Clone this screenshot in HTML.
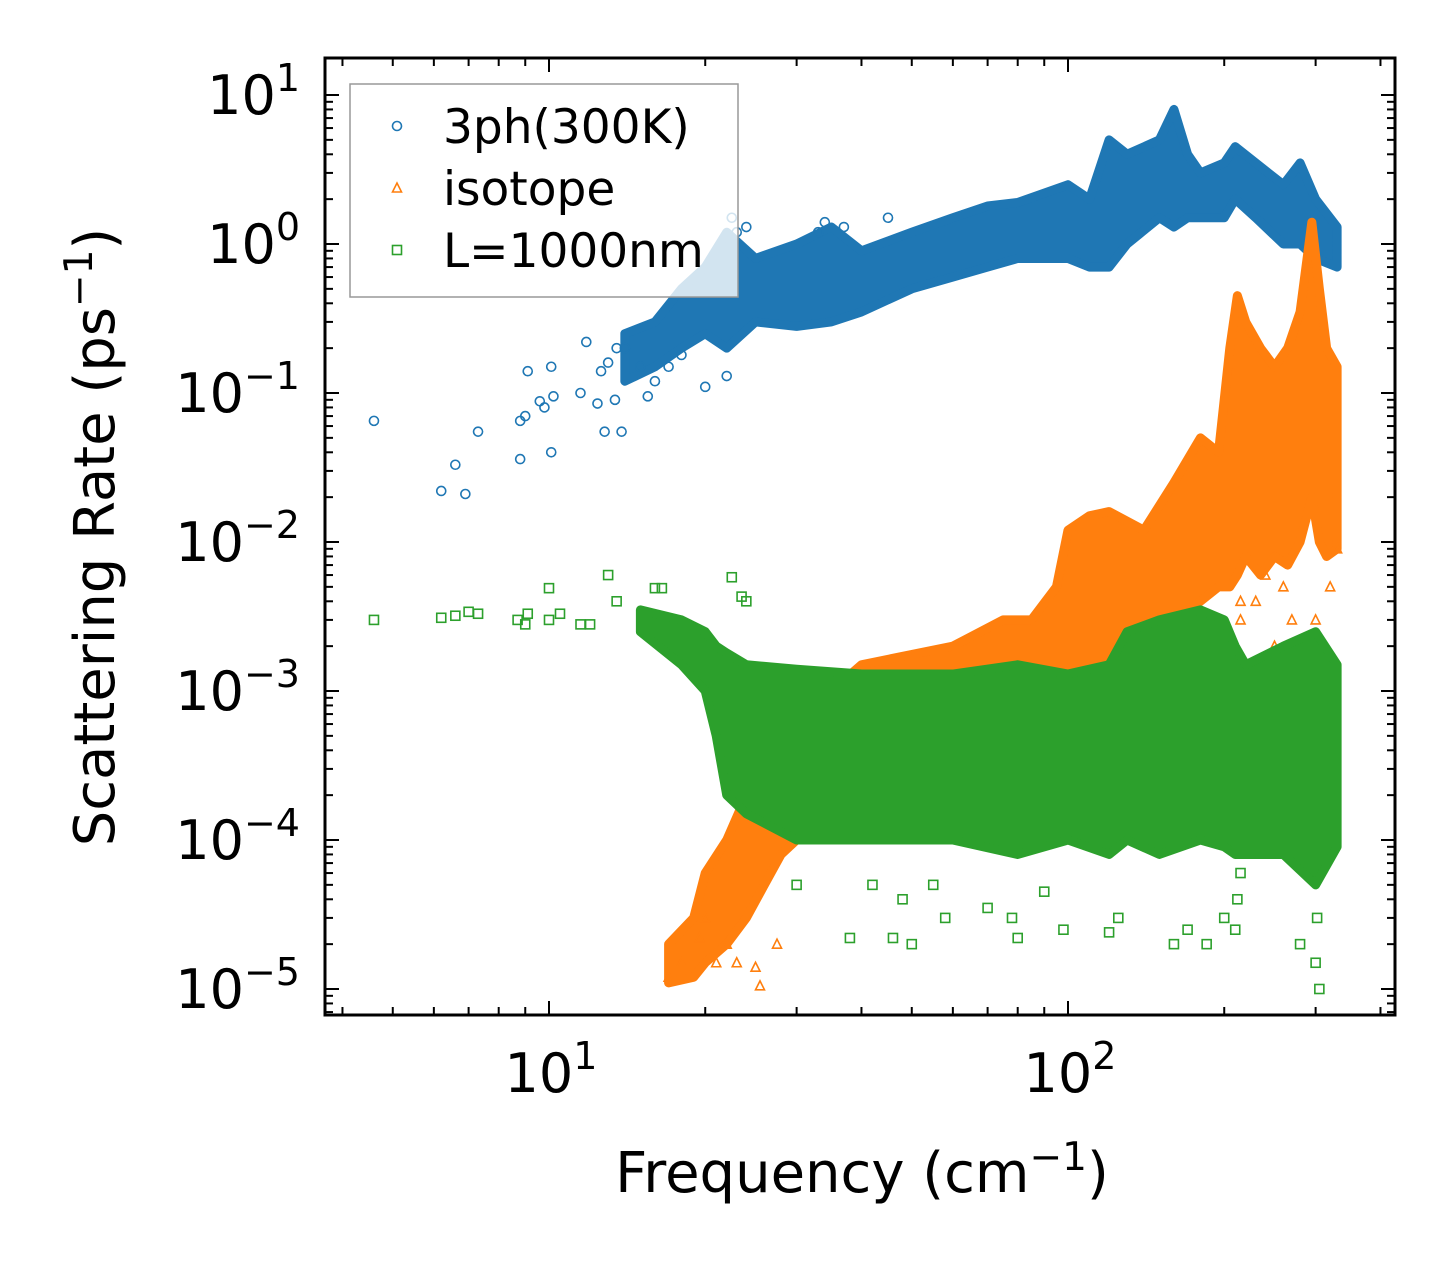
<!DOCTYPE html>
<html><head><meta charset="utf-8"><style>
html,body{margin:0;padding:0;background:#fff;}
svg text{font-family:"DejaVu Sans","Liberation Sans",sans-serif;fill:#000;}
</style></head><body>
<svg id="chart" width="1455" height="1265" viewBox="0 0 1455 1265" xmlns="http://www.w3.org/2000/svg">
<rect width="1455" height="1265" fill="#fff"/>
<g id="marks"></g>
<g id="axes"></g>
</svg>
<script>
// ---- data ----
const blueBandFreq = [14,16,18,20,22,25,30,35,40,50,60,70,80,100,110,120,130,150,160,170,180,200,210,230,260,280,300,330];
const blueBandLo   = [0.12,0.15,0.2,0.25,0.2,0.3,0.28,0.3,0.35,0.5,0.6,0.7,0.8,0.8,0.7,0.7,1.0,1.5,1.3,1.5,1.5,1.5,2,1.5,1.0,1.0,0.8,0.7];
const blueBandHi   = [0.25,0.3,0.5,0.7,1.2,0.8,1.0,1.3,0.9,1.2,1.5,1.8,1.9,2.5,2.0,5,4,5,8,4,3,3.5,4.5,3.5,2.5,3.5,2.0,1.3];
const bluePtFreq = [4.6,6.2,6.6,6.9,7.3,8.8,8.8,9.0,9.1,9.6,9.8,10.1,10.1,10.2,11.5,11.8,12.4,12.6,12.8,13,13.4,13.8,13.5,14,15,15.5,16,17,18,20,22,22.5,23,24,33,34,37,45];
const bluePtRate = [0.065,0.022,0.033,0.021,0.055,0.036,0.065,0.07,0.14,0.088,0.08,0.04,0.15,0.095,0.1,0.22,0.085,0.14,0.055,0.16,0.09,0.055,0.2,0.2,0.15,0.095,0.12,0.15,0.18,0.11,0.13,1.5,1.2,1.3,1.2,1.4,1.3,1.5];

const orgBandFreq = [17,19,20,22,24,26,28,30,32,35,40,60,75,85,95,100,110,120,140,160,180,195,205,212,220,235,250,265,280,295,305,315,330];
const orgBandHi   = [2e-5,3e-5,6e-5,1e-4,2e-4,3e-4,3e-4,3e-4,5e-4,1e-3,1.5e-3,2e-3,3e-3,3e-3,5e-3,1.2e-2,1.5e-2,1.6e-2,1.2e-2,2.5e-2,5e-2,4e-2,0.2,0.45,0.3,0.2,0.15,0.2,0.35,1.4,0.5,0.2,0.15];
const orgBandLo   = [1.1e-5,1.2e-5,1.5e-5,2e-5,3e-5,5e-5,8e-5,1e-4,2e-4,2.5e-4,3e-4,3e-4,4e-4,5e-4,6e-4,7e-4,1e-3,1.2e-3,2e-3,3e-3,4e-3,5e-3,5e-3,6e-3,8e-3,6e-3,8e-3,7e-3,1e-2,2e-2,1e-2,8e-3,9e-3];
const orgPtFreq = [17,18,19.5,21,22,23,25,25.5,27.5,20,215,230,250,270,300,320,330,215,240,260];
const orgPtRate = [1.2e-5,1.5e-5,2.2e-5,1.5e-5,2e-5,1.5e-5,1.4e-5,1.05e-5,2e-5,3e-5,3e-3,4e-3,2e-3,3e-3,3e-3,5e-3,9e-3,4e-3,6e-3,5e-3];

const grnBandFreq = [15,18,20,21,22,24,30,40,60,80,100,120,130,150,180,200,210,220,260,300,330];
const grnBandHi   = [3.5e-3,3e-3,2.5e-3,2e-3,1.8e-3,1.5e-3,1.4e-3,1.3e-3,1.3e-3,1.5e-3,1.3e-3,1.5e-3,2.5e-3,3e-3,3.5e-3,3e-3,2e-3,1.5e-3,2e-3,2.5e-3,1.5e-3];
const grnBandLo   = [2.5e-3,1.5e-3,1e-3,5e-4,2e-4,1.5e-4,1e-4,1e-4,1e-4,8e-5,1e-4,8e-5,1e-4,8e-5,1e-4,9e-5,8e-5,8e-5,8e-5,5e-5,9e-5];
const grnPtFreq = [4.6,6.2,6.6,7.0,7.3,8.7,9.0,9.1,10,10,10.5,11.5,12,13,13.5,16,16.5,22.5,23.5,24,30,38,42,46,48,50,55,58,70,78,80,90,98,120,125,160,170,185,200,210,280,300,305,302,300,212,215];
const grnPtRate = [0.003,0.0031,0.0032,0.0034,0.0033,0.003,0.0028,0.0033,0.0049,0.003,0.0033,0.0028,0.0028,0.006,0.004,0.0049,0.0049,0.0058,0.0043,0.004,5e-5,2.2e-5,5e-5,2.2e-5,4e-5,2e-5,5e-5,3e-5,3.5e-5,3e-5,2.2e-5,4.5e-5,2.5e-5,2.4e-5,3e-5,2e-5,2.5e-5,2e-5,3e-5,2.5e-5,2e-5,1.5e-5,1e-5,3e-5,6e-5,4e-5,6e-5];

const yTickExp = [1,0,-1,-2,-3,-4,-5];
const xTickExp = [1,2];

// ---- axes ----
const L=325,R=1395,T=58,B=1015;
const X=f=>1068+519*Math.log10(f/100);
const Y=v=>244-149*Math.log10(v);
const NS="http://www.w3.org/2000/svg";
const marks=document.getElementById('marks'), axes=document.getElementById('axes');
function mk(tag,attrs,parent){const e=document.createElementNS(NS,tag);for(const k in attrs)e.setAttribute(k,attrs[k]);parent.appendChild(e);return e;}

const C={b:'#1f77b4',o:'#ff7f0e',g:'#2ca02c'};
function band(fr,lo,hi,col,name){
  let pts=fr.map((f,i)=>X(f)+','+Y(hi[i]));
  for(let i=fr.length-1;i>=0;i--)pts.push(X(fr[i])+','+Y(lo[i]));
  const p=mk('polygon',{points:pts.join(' '),fill:col,stroke:col,'stroke-width':9,'stroke-linejoin':'round'},marks);
  
  
}
function marker(type,x,y,col,parent){
  let e;
  if(type==='o') e=mk('circle',{cx:x,cy:y,r:4.5,fill:'none',stroke:col,'stroke-width':1.6},parent);
  else if(type==='^') e=mk('polygon',{points:`${x},${y-5} ${x-4.5},${y+4} ${x+4.5},${y+4}`,fill:'none',stroke:col,'stroke-width':1.6},parent);
  else e=mk('rect',{x:x-4.5,y:y-4.5,width:9,height:9,fill:'none',stroke:col,'stroke-width':1.6},parent);
  return e;
}
function pts(fr,rt,type,col,name){
  fr.forEach((f,i)=>{const e=marker(type,X(f),Y(rt[i]),col,marks);
    
    });
}
band(blueBandFreq,blueBandLo,blueBandHi,C.b,'3ph-cloud');
pts(bluePtFreq,bluePtRate,'o',C.b,'3ph-point');
band(orgBandFreq,orgBandLo,orgBandHi,C.o,'isotope-cloud');
pts(orgPtFreq,orgPtRate,'^',C.o,'isotope-point');
band(grnBandFreq,grnBandLo,grnBandHi,C.g,'boundary-cloud');
pts(grnPtFreq,grnPtRate,'s',C.g,'boundary-point');

// ticks
for(let d=0;d<=2;d++)for(let m=1;m<10;m++){const f=m*Math.pow(10,d);const x=X(f);if(x<L||x>R)continue;const len=m===1?14:8;
  mk('line',{x1:x,y1:B,x2:x,y2:B-len,stroke:'#000','stroke-width':2},axes);
  mk('line',{x1:x,y1:T,x2:x,y2:T+len,stroke:'#000','stroke-width':2},axes);}
for(let d=-6;d<=1;d++)for(let m=1;m<10;m++){const v=m*Math.pow(10,d);const y=Y(v);if(y<T||y>B)continue;const len=m===1?14:8;
  mk('line',{x1:L,y1:y,x2:L+len,y2:y,stroke:'#000','stroke-width':2},axes);
  mk('line',{x1:R,y1:y,x2:R-len,y2:y,stroke:'#000','stroke-width':2},axes);}
mk('rect',{x:L,y:T,width:R-L,height:B-T,fill:'none',stroke:'#000','stroke-width':3},axes);

function pow10(x,y,exp,anchor,name){
  const t=mk('text',{x:x,y:y,'font-size':54,'text-anchor':anchor},axes);
  
  
  t.appendChild(document.createTextNode('10'));
  const s=mk('tspan',{'font-size':38,dy:-23},t);
  s.textContent=(exp<0?'\u2212':'')+Math.abs(exp);
}
yTickExp.forEach(e=>pow10(300,Y(Math.pow(10,e))+19,e,'end','y-tick-label'));
xTickExp.forEach(e=>pow10(X(Math.pow(10,e))+2,1092,e,'middle','x-tick-label'));

const xt=mk('text',{x:862,y:1192,'font-size':56,'text-anchor':'middle'},axes);


xt.innerHTML='Frequency (cm<tspan font-size="39" dy="-22">\u22121</tspan><tspan dy="22">)</tspan>';
const yt=mk('text',{x:0,y:0,'font-size':56,'text-anchor':'middle',transform:'translate(114,537) rotate(-90)'},axes);


yt.innerHTML='Scattering Rate (ps<tspan font-size="39" dy="-22">\u22121</tspan><tspan dy="22">)</tspan>';

// legend
const lg=mk('g',{},axes);


mk('rect',{x:350,y:84,width:388,height:213,fill:'#fff','fill-opacity':0.8,stroke:'#999','stroke-width':1.5},lg);
const legLabels=['3ph(300K)','isotope','L=1000nm'], legTypes=['o','^','s'], legCols=[C.b,C.o,C.g];
legLabels.forEach((s,i)=>{const y=126+62*i;
  const m=marker(legTypes[i],397,y,legCols[i],lg);
  
  
  const t=mk('text',{x:443,y:y+17,'font-size':47},lg);
  
  
  t.textContent=s;});
</script>
</body></html>
